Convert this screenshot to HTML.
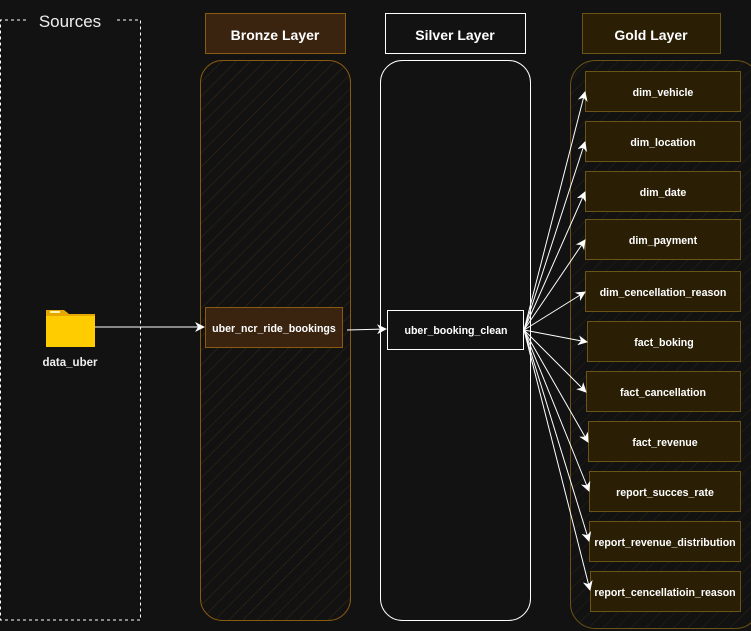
<!DOCTYPE html>
<html><head><meta charset="utf-8"><style>
html,body{margin:0;padding:0;background:#121212;}
svg{display:block;}
text{font-family:"Liberation Sans","DejaVu Sans",sans-serif;}
</style></head><body>
<svg width="751" height="631" viewBox="0 0 751 631" xmlns="http://www.w3.org/2000/svg">
<defs>
<pattern id="hb" width="10" height="10" patternUnits="userSpaceOnUse" patternTransform="rotate(45)">
<line x1="0" y1="0" x2="0" y2="10" stroke="#3a2a14" stroke-width="1"/></pattern>
<pattern id="hg" width="10" height="10" patternUnits="userSpaceOnUse" patternTransform="rotate(45)">
<line x1="0" y1="0" x2="0" y2="10" stroke="#2a2410" stroke-width="1"/></pattern>
<marker id="ar" markerWidth="10" markerHeight="10" refX="9" refY="5" orient="auto" markerUnits="userSpaceOnUse">
<path d="M0,0 L10,5 L0,10 L3,5 z" fill="#fff"/></marker>
</defs>
<rect width="751" height="631" fill="#121212"/>
<path d="M26,20 L0.5,20 L0.5,620 L140.5,620 L140.5,20 L115,20" fill="none" stroke="#fff" stroke-dasharray="3,3"/>
<text x="70" y="27" font-size="17" fill="#eee" text-anchor="middle">Sources</text>
<path d="M46,310 L64,310 L69,314 L95,314 L95,347 L46,347 z" fill="#e6a800"/>
<rect x="46" y="316" width="49" height="31" fill="#ffcc00"/>
<rect x="50" y="311" width="10" height="2" fill="#fff3b0"/>
<text x="70" y="366" font-size="11.5" font-weight="bold" fill="#eee" text-anchor="middle">data_uber</text>
<rect x="205.5" y="13.5" width="140" height="40" fill="#3a2410" stroke="#8a5a10"/>
<text x="275" y="40" font-size="14" font-weight="bold" fill="#fff" text-anchor="middle">Bronze Layer</text>
<rect x="200.5" y="60.5" width="150" height="560" rx="22" fill="url(#hb)" stroke="#8a5a10"/>
<rect x="205.5" y="307.5" width="137" height="40" fill="#3a2410" stroke="#8a5a10"/>
<text x="274" y="332" font-size="10.6" font-weight="bold" fill="#fff" text-anchor="middle">uber_ncr_ride_bookings</text>
<rect x="385.5" y="13.5" width="140" height="40" fill="#121212" stroke="#fff"/>
<text x="455" y="40" font-size="14" font-weight="bold" fill="#fff" text-anchor="middle">Silver Layer</text>
<rect x="380.5" y="60.5" width="150" height="560" rx="22" fill="#121212" stroke="#fff"/>
<rect x="387.5" y="310.5" width="136" height="39" fill="#121212" stroke="#fff"/>
<text x="456" y="334" font-size="10.6" font-weight="bold" fill="#fff" text-anchor="middle">uber_booking_clean</text>
<rect x="582.5" y="13.5" width="138" height="40" fill="#2a1f05" stroke="#6b5414"/>
<text x="651" y="40" font-size="14" font-weight="bold" fill="#fff" text-anchor="middle">Gold Layer</text>
<rect x="570.5" y="60.5" width="190" height="568" rx="25" fill="url(#hg)" stroke="#6b5414"/>
<g fill="#2a1f05" stroke="#6b5414">
<rect x="585.5" y="71.5" width="155" height="40"/>
<rect x="585.5" y="121.5" width="155" height="40"/>
<rect x="585.5" y="171.5" width="155" height="40"/>
<rect x="585.5" y="219.5" width="155" height="40"/>
<rect x="585.5" y="271.5" width="155" height="40"/>
<rect x="587.5" y="321.5" width="153" height="40"/>
<rect x="586.5" y="371.5" width="154" height="40"/>
<rect x="588.5" y="421.5" width="152" height="40"/>
<rect x="589.5" y="471.5" width="151" height="40"/>
<rect x="589.5" y="521.5" width="151" height="40"/>
<rect x="590.5" y="571.5" width="150" height="40"/>
</g>
<g font-size="10.6" font-weight="bold" fill="#fff" text-anchor="middle">
<text x="663" y="96">dim_vehicle</text>
<text x="663" y="146">dim_location</text>
<text x="663" y="196">dim_date</text>
<text x="663" y="244">dim_payment</text>
<text x="663" y="296">dim_cencellation_reason</text>
<text x="664" y="346">fact_boking</text>
<text x="663" y="396">fact_cancellation</text>
<text x="665" y="446">fact_revenue</text>
<text x="665" y="496">report_succes_rate</text>
<text x="665" y="546">report_revenue_distribution</text>
<text x="665" y="596">report_cencellatioin_reason</text>
</g>
<g stroke="#fff" stroke-width="1" fill="none" marker-end="url(#ar)">
<line x1="95" y1="327" x2="204" y2="327"/>
<line x1="347" y1="330" x2="386" y2="329"/>
<line x1="524" y1="330" x2="585" y2="92"/>
<line x1="524" y1="330" x2="585" y2="142"/>
<line x1="524" y1="330" x2="585" y2="192"/>
<line x1="524" y1="330" x2="585" y2="240"/>
<line x1="524" y1="330" x2="585" y2="292"/>
<line x1="524" y1="330" x2="587" y2="342"/>
<line x1="524" y1="330" x2="586" y2="392"/>
<line x1="524" y1="330" x2="588" y2="442"/>
<line x1="524" y1="330" x2="589" y2="491"/>
<line x1="524" y1="330" x2="589" y2="541"/>
<line x1="524" y1="330" x2="590" y2="590"/>
</g>
</svg>
</body></html>
